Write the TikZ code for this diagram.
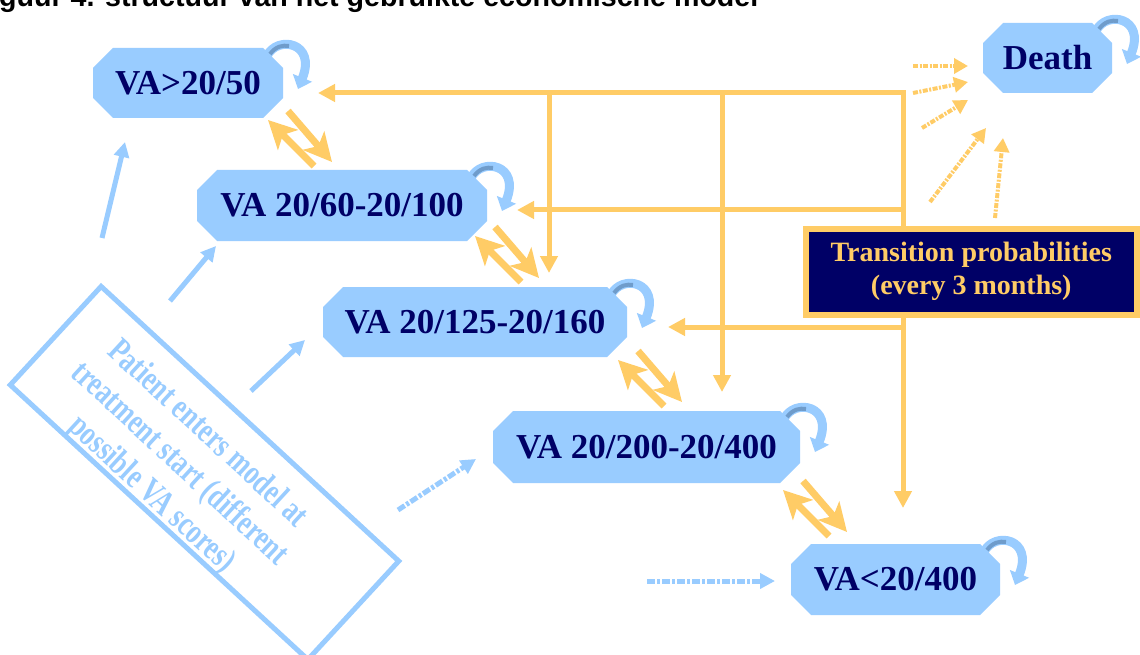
\documentclass[tikz,border=0pt]{standalone}
\usepackage{fontspec}
\setmainfont{Liberation Serif}
\newfontfamily\sansf{Liberation Sans}
\usetikzlibrary{arrows.meta,calc}
\pgfdeclarelayer{bg}
\pgfsetlayers{bg,main}
\definecolor{vablue}{HTML}{99CCFF}
\definecolor{navy}{HTML}{000066}
\definecolor{gold}{HTML}{FFCC66}
\definecolor{loopdark}{HTML}{6F9CCB}
\newcommand\selfloop[1]{%
  \coordinate (#1ne) at (#1.north east);
  \draw[loopst] ($(#1ne)+(-16,8)$) .. controls ($(#1ne)+(-6,-13)$) and ($(#1ne)+(34,-6)$) .. ($(#1ne)+(15,41)$);
  \draw[loopdark,line width=4pt] ($(#1ne)+(-13,6)$) .. controls ($(#1ne)+(-7,-2)$) and ($(#1ne)+(0,-3)$) .. ($(#1ne)+(6,-2)$);
}
% name, cx, cy, width, height, text
\newcommand\vastate[6]{%
  \node[stxt, minimum width=#4pt, minimum height=#5pt] (#1) at (#2,#3) {#6};
  \begin{pgfonlayer}{bg}
    \fill[vablue] ($(#1.north west)+(20,0)$) -- ($(#1.north east)+(-20,0)$) -- ($(#1.north east)+(0,20)$)
      -- ($(#1.south east)+(0,-20)$) -- ($(#1.south east)+(-20,0)$) -- ($(#1.south west)+(20,0)$)
      -- ($(#1.south west)+(0,-20)$) -- ($(#1.north west)+(0,20)$) -- cycle;
  \end{pgfonlayer}%
}
\begin{document}
\begin{tikzpicture}[x=1pt,y=-1pt,
  stxt/.style={rectangle, draw=none, inner sep=0pt, outer sep=0pt, text=navy, font=\fontsize{35}{40}\selectfont\bfseries},
  oline/.style={draw=gold, line width=5pt},
  oarr/.style={oline, -{Triangle[length=17pt,width=17pt]}},
  dbl/.style={draw=gold, line width=7pt, -{Stealth[length=28pt,width=28pt,inset=7pt]}},
  ddot/.style={draw=gold, line width=4pt, dash pattern=on 5pt off 1.5pt on 2pt off 1.5pt, -{Triangle[length=14pt,width=15pt]}},
  barr/.style={draw=vablue, line width=5pt, -{Triangle[length=15pt,width=15pt]}},
  bdash/.style={barr, dash pattern=on 8pt off 2pt on 3pt off 2pt},
  loopst/.style={draw=vablue, line width=9pt, -{Triangle[length=12pt,width=20pt]}}
]
\useasboundingbox (0,0) rectangle (1140,655);
\begin{pgfonlayer}{bg}
  \fill[white] (0,0) rectangle (1140,655);
\end{pgfonlayer}

% title (cropped)
\node[anchor=base west, inner sep=0pt, font=\sansf\bfseries\fontsize{28.6}{30}\selectfont] (title) at (-1,7)
  {guur 4. structuur van het gebruikte economische model};

% states
\vastate{n1}{188}{83}{190}{70}{VA>20/50}
\vastate{death}{1047.5}{58}{129}{70}{Death}
\vastate{n2}{342}{205.5}{290}{71}{VA 20/60-20/100}
\vastate{n3}{475}{322}{304}{70}{VA 20/125-20/160}
\vastate{n4}{646.5}{447}{307}{72}{VA 20/200-20/400}
\vastate{n5}{895.5}{579.5}{209}{71}{VA<20/400}

% transition box
\node[draw=gold, line width=6pt, fill=navy, text=gold, inner sep=0pt, align=center,
  minimum width=331.5pt, minimum height=85.5pt,
  font=\fontsize{28}{33}\selectfont\bfseries] (trans) at (971.25,271.75)
  {Transition probabilities\\(every 3 months)};

% patient box
\node[draw=vablue, line width=5pt, rotate=-42.7, minimum width=405pt, minimum height=134pt] (pbox) at (204.5,473) {};
\node[rotate=-42.7, text=vablue, inner sep=0pt] (ptext) at (179,465)
  {\scalebox{0.75}[1]{\fontsize{35}{41}\selectfont\bfseries
   \begin{tabular}{@{}c@{}}Patient enters model at\\ treatment start (different\\ possible VA scores)\end{tabular}}};

% orange transition lines
\coordinate (J) at (903,93);
\coordinate (tA) at (318,93);
\coordinate (V1) at (549,93);  \coordinate (V1e) at (549,273);
\coordinate (V2) at (722,93);  \coordinate (V2e) at (722,392);
\coordinate (H1) at (903,210); \coordinate (H1e) at (517,210);
\coordinate (H2) at (903,327); \coordinate (H2e) at (668,327);
\coordinate (Dn) at (903,508);
\draw[oarr] (trans.north -| J) -- (J) -- (tA);
\draw[oarr] (V1) -- (V1e);
\draw[oarr] (V2) -- (V2e);
\draw[oarr] (H1) -- (H1e);
\draw[oarr] (H2) -- (H2e);
\draw[oarr] (trans.south -| J) -- (Dn);

% double arrows between neighbouring states
\foreach \px/\py [count=\i] in {268/120, 475/236, 618/360, 783/490}{
  \coordinate (P\i) at (\px,\py);
  \draw[dbl] ($(P\i)+(46,46)$) -- (P\i);
  \draw[dbl] ($(P\i)+(20,-9)$) -- ($(P\i)+(64,42)$);
}

% dotted arrows to death
\coordinate (d1s) at (913,66);  \coordinate (d1e) at (968,66);
\coordinate (d2s) at (913,93);  \coordinate (d2e) at (968,82);
\coordinate (d3s) at (922,128); \coordinate (d3e) at (968,100);
\coordinate (d4s) at (930,202); \coordinate (d4e) at (986,128);
\coordinate (d5s) at (995,218); \coordinate (d5e) at (1003,138);
\foreach \k in {1,...,5}{\draw[ddot] (d\k s) -- (d\k e);}

% entry arrows
\coordinate (b1s) at (102,238); \coordinate (b1e) at (125,142);
\coordinate (b2s) at (170,301); \coordinate (b2e) at (216,246);
\coordinate (b3s) at (251,391); \coordinate (b3e) at (305,340);
\coordinate (b4s) at (398,510); \coordinate (b4e) at (476,459);
\coordinate (b5s) at (647,581); \coordinate (b5e) at (775,581);
\draw[barr] (b1s) -- (b1e);
\draw[barr] (b2s) -- (b2e);
\draw[barr] (b3s) -- (b3e);
\draw[bdash] (b4s) -- (b4e);
\draw[bdash] (b5s) -- (b5e);

% self loops
\selfloop{n1}
\selfloop{death}
\selfloop{n2}
\selfloop{n3}
\selfloop{n4}
\selfloop{n5}
\end{tikzpicture}
\end{document}
